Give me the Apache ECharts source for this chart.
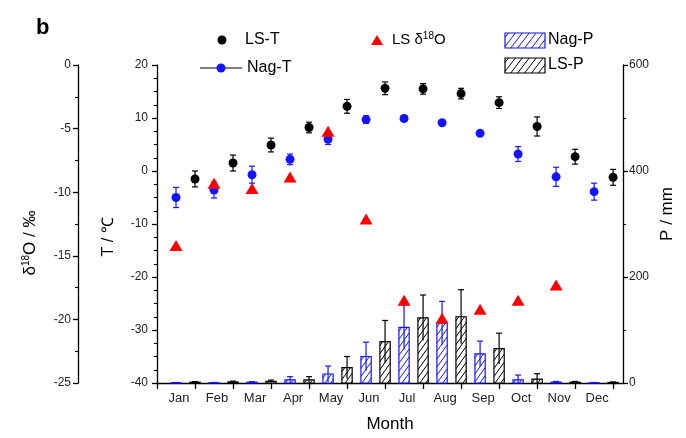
<!DOCTYPE html>
<html>
<head>
<meta charset="utf-8">
<script src="https://cdn.jsdelivr.net/npm/echarts@6/dist/echarts.min.js"></script>
<style>
  html, body { margin: 0; padding: 0; background: #fff; }
  #main { width: 686px; height: 438px; }
</style>
</head>
<body>
<div id="main"></div>
<script>
var months = ['Jan', 'Feb', 'Mar', 'Apr', 'May', 'Jun', 'Jul', 'Aug', 'Sep', 'Oct', 'Nov', 'Dec'];

// temperature (deg C) with error
var lsT = [-1.5, 1.5, 4.9, 8.2, 12.2, 15.6, 15.5, 14.6, 12.9, 8.4, 2.7, -1.2];
var lsTErr = [1.5, 1.5, 1.3, 1.0, 1.3, 1.2, 1.0, 1.0, 1.1, 1.8, 1.4, 1.5];
var nagT = [-5.0, -3.6, -0.7, 2.2, 6.0, 9.7, 9.9, 9.1, 7.1, 3.2, -1.1, -3.9];
var nagTErr = [1.9, 1.5, 1.6, 1.0, 1.0, 0.7, 0.3, 0.3, 0.3, 1.4, 1.8, 1.6];

// LS d18O (permil), no December value
var lsD18O = [-14.2, -9.3, -9.7, -8.8, -5.2, -12.1, -18.5, -19.9, -19.2, -18.5, -17.3];

// precipitation (mm) with error
var nagP = [0.5, 0.5, 1.5, 6, 17, 50, 105, 113, 55, 6, 1.5, 0.5];
var nagPErr = [0.5, 0.5, 1, 6, 15, 27, 42, 41, 24, 9, 1.5, 0.5];
var lsP = [1.5, 2, 3, 6, 29, 78, 123, 125, 65, 7.5, 1.5, 1];
var lsPErr = [1, 1.5, 2.5, 6, 21, 40, 43, 51, 29, 10, 1.5, 1];

var BLUE = '#1414ff';
var RED = '#ff0000';
var FONT = 'Liberation Sans, Arial, sans-serif';

// "/" hatch segments inside a rectangle
function hatch(x0, y0, w, h, step, s) {
    var segs = [];
    if (h < 1.5 || w < 1) return segs;
    var cStart = s * x0 + y0, cEnd = s * (x0 + w) + y0 + h;
    for (var c = cStart + step / 2; c < cEnd; c += step) {
        var xa = Math.max(x0, (c - (y0 + h)) / s);
        var xb = Math.min(x0 + w, (c - y0) / s);
        if (xb - xa > 0.3) {
            segs.push([xa, c - s * xa, xb, c - s * xb]);
        }
    }
    return segs;
}

function lineEl(x1, y1, x2, y2, color, lw) {
    return { type: 'line', shape: { x1: x1, y1: y1, x2: x2, y2: y2 }, style: { stroke: color, lineWidth: lw || 1 } };
}

function errRender(color) {
    return function (params, api) {
        var x = api.value(0), y = api.value(1), e = api.value(2);
        var hi = api.coord([x, y + e]), lo = api.coord([x, y - e]);
        var cw = 3;
        return {
            type: 'group',
            children: [
                lineEl(hi[0], hi[1], lo[0], lo[1], color, 1.2),
                lineEl(hi[0] - cw, hi[1], hi[0] + cw, hi[1], color, 1.2),
                lineEl(lo[0] - cw, lo[1], lo[0] + cw, lo[1], color, 1.2)
            ]
        };
    };
}

function barRender(color) {
    return function (params, api) {
        var x = api.value(0), v = api.value(1), e = api.value(2);
        var base = api.coord([x, 0]);
        var top = api.coord([x, v]);
        var w = api.size([0.27, 0])[0];
        var x0 = base[0] - w / 2, y0 = top[1], h = base[1] - top[1];
        var children = [{
            type: 'rect',
            shape: { x: x0, y: y0, width: w, height: h },
            style: { fill: '#fff', stroke: color, lineWidth: 1.2 }
        }];
        hatch(x0, y0, w, h, 8, 1.4).forEach(function (sg) {
            children.push(lineEl(sg[0], sg[1], sg[2], sg[3], color, 1));
        });
        var hi = api.coord([x, v + e]);
        var lo = api.coord([x, Math.max(0, v - e)]);
        children.push(lineEl(hi[0], hi[1], lo[0], lo[1], color, 1.2));
        children.push(lineEl(hi[0] - 3, hi[1], hi[0] + 3, hi[1], color, 1.2));
        return { type: 'group', children: children };
    };
}

function legendBox(x, y, w, h, color) {
    var els = [{
        type: 'rect', shape: { x: x, y: y, width: w, height: h },
        style: { fill: '#fff', stroke: color, lineWidth: 1.2 }
    }];
    hatch(x, y, w, h, 9, 1.3).forEach(function (sg) {
        els.push(lineEl(sg[0], sg[1], sg[2], sg[3], color, 1));
    });
    return els;
}

function txt(x, y, text, size, extra) {
    var el = {
        type: 'text', x: x, y: y,
        style: {
            text: text, font: size + 'px ' + FONT, fill: '#000',
            textAlign: 'left', textVerticalAlign: 'middle', align: 'left', verticalAlign: 'middle'
        }
    };
    if (extra) {
        for (var k in extra) el[k] = extra[k];
    }
    return el;
}

var dom = document.getElementById('main');
var myChart = echarts.init(dom);

var labelPos = months.map(function (m, i) { return i + 0.58; });
var tickPos = [0, 1, 2, 3, 4, 5, 6, 7, 8, 9, 10, 11, 12];

var graphics = [
    txt(36, 28, 'b', 22, {}),
    // legend
    { type: 'circle', shape: { cx: 222, cy: 40, r: 4.5 }, style: { fill: '#000' } },
    txt(245, 40, 'LS-T', 16),
    lineEl(200, 68, 242, 68, '#000', 1.2),
    { type: 'circle', shape: { cx: 221, cy: 68, r: 4.5 }, style: { fill: BLUE } },
    txt(247, 68, 'Nag-T', 16),
    { type: 'polygon', shape: { points: [[371, 45], [383, 45], [377, 35]] }, style: { fill: RED } },
    {
        type: 'text', x: 392, y: 40,
        style: {
            text: '{a|LS δ}{s|18}{a|O}', textVerticalAlign: 'middle', verticalAlign: 'middle',
            rich: {
                a: { font: '15px ' + FONT, fill: '#000' },
                s: { font: '10px ' + FONT, fill: '#000', verticalAlign: 'top', padding: [0, 0, 8, 0] }
            }
        }
    },
    txt(548, 40, 'Nag-P', 16),
    txt(548, 65, 'LS-P', 16),
    // axis titles
    {
        type: 'text', x: 30, y: 243, rotation: Math.PI / 2,
        style: {
            text: '{a|δ}{s|18}{a|O / ‰}', textAlign: 'center', align: 'center',
            textVerticalAlign: 'middle', verticalAlign: 'middle',
            rich: {
                a: { font: '17px ' + FONT, fill: '#000' },
                s: { font: '10px ' + FONT, fill: '#000', verticalAlign: 'top', padding: [0, 0, 8, 0] }
            }
        }
    },
    txt(109, 237, 'T / ℃', 16, { rotation: Math.PI / 2 }),
    txt(667, 214, 'P / mm', 17, { rotation: Math.PI / 2 })
];
graphics[0].style.font = 'bold 22px ' + FONT;
graphics[graphics.length - 2].style.textAlign = 'center';
graphics[graphics.length - 2].style.align = 'center';
graphics[graphics.length - 1].style.textAlign = 'center';
graphics[graphics.length - 1].style.align = 'center';
graphics = graphics.concat(legendBox(505, 33, 40, 15, BLUE), legendBox(505, 58, 40, 15, '#000'));

var axisLineStyle = { color: '#000', width: 1.3 };
var labelStyle = { color: '#222', fontSize: 12, fontFamily: FONT };

option = {
    animation: false,
    backgroundColor: '#fff',
    grid: { left: 157, right: 63, top: 65, bottom: 51, containLabel: false },
    xAxis: {
        type: 'value',
        min: 0,
        max: 12.26,
        name: 'Month',
        nameLocation: 'middle',
        nameGap: 33,
        nameTextStyle: { color: '#000', fontSize: 17, fontFamily: FONT },
        axisLine: { onZero: false, lineStyle: axisLineStyle },
        axisTick: { customValues: tickPos, length: 6, lineStyle: axisLineStyle },
        axisLabel: {
            customValues: labelPos,
            margin: 9,
            color: '#222', fontSize: 13, fontFamily: FONT,
            formatter: function (v) { return months[Math.round(v - 0.58)]; }
        },
        splitLine: { show: false }
    },
    yAxis: [{
        type: 'value', position: 'left',
        min: -40, max: 20, interval: 10,
        axisLine: { show: true, onZero: false, lineStyle: axisLineStyle },
        axisTick: { show: true, length: 5, lineStyle: axisLineStyle },
        minorTick: { show: true, splitNumber: 4, length: 3, lineStyle: { color: '#000', width: 1.1 } },
        axisLabel: { margin: 9, color: labelStyle.color, fontSize: 12, fontFamily: FONT },
        splitLine: { show: false }
    }, {
        type: 'value', position: 'left', offset: 79,
        min: -25, max: 0, interval: 5,
        axisLine: { show: true, onZero: false, lineStyle: axisLineStyle },
        axisTick: { show: true, length: 5, lineStyle: axisLineStyle },
        minorTick: { show: true, splitNumber: 2, length: 3, lineStyle: { color: '#000', width: 1.1 } },
        axisLabel: { margin: 7, color: labelStyle.color, fontSize: 12, fontFamily: FONT },
        splitLine: { show: false }
    }, {
        type: 'value', position: 'right',
        min: 0, max: 600, interval: 200,
        axisLine: { show: true, onZero: false, lineStyle: axisLineStyle },
        axisTick: { show: true, length: 5, lineStyle: axisLineStyle },
        minorTick: { show: true, splitNumber: 2, length: 3, lineStyle: { color: '#000', width: 1.1 } },
        axisLabel: { margin: 6, color: labelStyle.color, fontSize: 12, fontFamily: FONT },
        splitLine: { show: false }
    }],
    graphic: graphics,
    series: [{
        name: 'Nag-P',
        type: 'custom',
        yAxisIndex: 2,
        renderItem: barRender(BLUE),
        data: nagP.map(function (v, i) { return [i + 0.5, v, nagPErr[i]]; }),
        z: 2
    }, {
        name: 'LS-P',
        type: 'custom',
        yAxisIndex: 2,
        renderItem: barRender('#000'),
        data: lsP.map(function (v, i) { return [i + 1, v, lsPErr[i]]; }),
        z: 2
    }, {
        name: 'LS-T err',
        type: 'custom',
        yAxisIndex: 0,
        renderItem: errRender('#000'),
        data: lsT.map(function (v, i) { return [i + 1, v, lsTErr[i]]; }),
        z: 3
    }, {
        name: 'Nag-T err',
        type: 'custom',
        yAxisIndex: 0,
        renderItem: errRender(BLUE),
        data: nagT.map(function (v, i) { return [i + 0.5, v, nagTErr[i]]; }),
        z: 3
    }, {
        name: 'LS-T',
        type: 'scatter',
        yAxisIndex: 0,
        symbolSize: 9,
        itemStyle: { color: '#000', opacity: 1 },
        data: lsT.map(function (v, i) { return [i + 1, v]; }),
        z: 4
    }, {
        name: 'Nag-T',
        type: 'scatter',
        yAxisIndex: 0,
        symbolSize: 9,
        itemStyle: { color: BLUE, opacity: 1 },
        data: nagT.map(function (v, i) { return [i + 0.5, v]; }),
        z: 4
    }, {
        name: 'LS δ18O',
        type: 'scatter',
        yAxisIndex: 1,
        symbol: 'triangle',
        symbolSize: [13, 11],
        itemStyle: { color: RED, opacity: 1 },
        data: lsD18O.map(function (v, i) { return [i + 0.5, v]; }),
        z: 5
    }]
};

myChart.setOption(option, true);
</script>
</body>
</html>
